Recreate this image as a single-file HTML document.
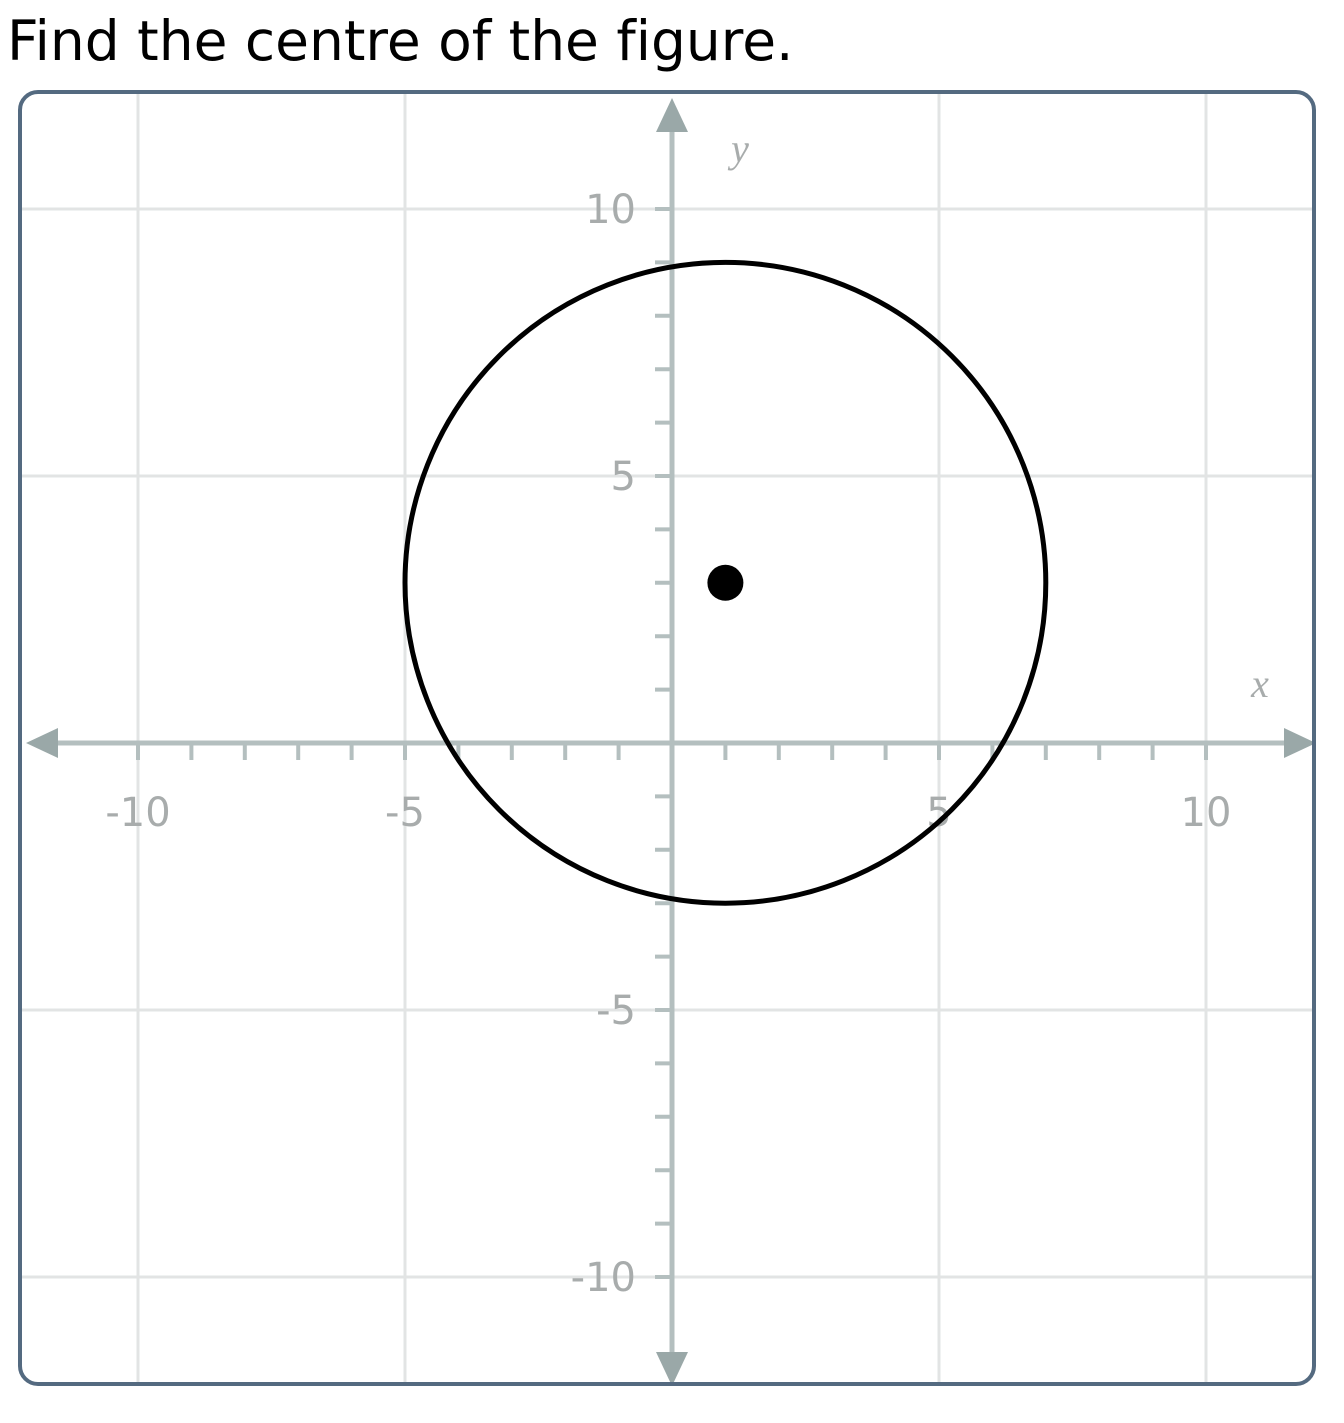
<!DOCTYPE html>
<html><head><meta charset="utf-8"><style>
body{margin:0;background:#fff;width:1344px;height:1423px;overflow:hidden;}
#title{position:absolute;left:7px;top:9px;font-family:"DejaVu Sans",sans-serif;font-size:55px;color:#000;font-variant-ligatures:none;font-feature-settings:"liga" 0;}
svg{position:absolute;left:0;top:0;}
</style></head><body>
<div id="title">Find the centre of the figure.</div>
<svg id="g" width="1344" height="1423"></svg>
<script>
const gridValues=[-10,-5,5,10];
const tickLabelsX=["-10","-5","5","10"];
const tickLabelsY=["-10","-5","5","10"];
const circleCenter=[1,3];
const circleRadius=[6];
const NS="http://www.w3.org/2000/svg";
const svg=document.getElementById('g');
const X=v=>672+v*53.4, Y=v=>743-v*53.4;
function el(t,a,p){const e=document.createElementNS(NS,t);for(const k in a)e.setAttribute(k,a[k]);(p||svg).appendChild(e);return e;}
const cp=el('clipPath',{id:'c'});el('rect',{x:20,y:92,width:1294,height:1292,rx:18},cp);
const gg=el('g',{'clip-path':'url(#c)'});
gridValues.forEach(v=>{
 const a=el('line',{x1:X(v),x2:X(v),y1:92,y2:1384,stroke:'#e2e4e4','stroke-width':3},gg);
 
 
 const b=el('line',{y1:Y(v),y2:Y(v),x1:20,x2:1314,stroke:'#e2e4e4','stroke-width':3},gg);
 
 
});
for(let v=-10;v<=10;v++){ if(v===0)continue;
 el('line',{x1:X(v),x2:X(v),y1:743,y2:760,stroke:'#b4bfbf','stroke-width':4},gg);
 el('line',{y1:Y(v),y2:Y(v),x1:655,x2:672,stroke:'#b4bfbf','stroke-width':4},gg);
}
const xa=el('line',{x1:50,x2:1290,y1:743,y2:743,stroke:'#b4bfbf','stroke-width':5},gg);

const ya=el('line',{x1:672,x2:672,y1:125,y2:1360,stroke:'#b4bfbf','stroke-width':5},gg);

el('polygon',{points:'26,743 58,728 58,758',fill:'#9aa8a8'},gg);
el('polygon',{points:'1316,743 1284,728 1284,758',fill:'#9aa8a8'},gg);
el('polygon',{points:'672,98 656,132 688,132',fill:'#9aa8a8'},gg);
el('polygon',{points:'672,1386 656,1352 688,1352',fill:'#9aa8a8'},gg);
gridValues.forEach((v,i)=>{
 const t=el('text',{x:X(v),y:826,'text-anchor':'middle','font-family':'DejaVu Sans,sans-serif','font-size':40,fill:'#a8acac'},gg);
 t.textContent=tickLabelsX[i];
 
 const u=el('text',{x:636,y:Y(v)+14,'text-anchor':'end','font-family':'DejaVu Sans,sans-serif','font-size':40,fill:'#a8acac'},gg);
 u.textContent=tickLabelsY[i];
 
});
const xl=el('text',{x:1260,y:697,'text-anchor':'middle','font-family':'Liberation Serif,serif','font-style':'italic','font-size':40,fill:'#a8acac'},gg);xl.textContent='x';

const yl=el('text',{x:740,y:162,'text-anchor':'middle','font-family':'Liberation Serif,serif','font-style':'italic','font-size':40,fill:'#a8acac'},gg);yl.textContent='y';

const c=el('circle',{cx:X(circleCenter[0]),cy:Y(circleCenter[1]),r:circleRadius[0]*53.4,fill:'none',stroke:'#000','stroke-width':5},gg);

const d=el('circle',{cx:X(circleCenter[0]),cy:Y(circleCenter[1]),r:18,fill:'#000'},gg);

const f=el('rect',{x:20,y:92,width:1294,height:1292,rx:18,fill:'none',stroke:'#546a80','stroke-width':4});

</script>
</body></html>
